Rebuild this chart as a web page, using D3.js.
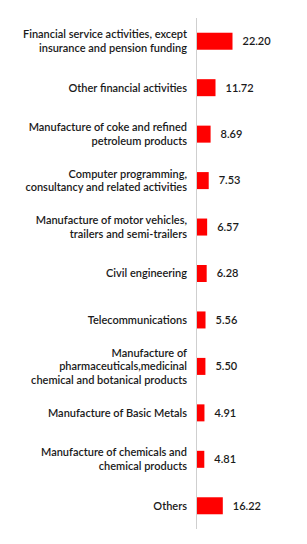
<!DOCTYPE html>
<html><head><meta charset="utf-8">
<script src="https://cdn.jsdelivr.net/npm/d3@7"></script>
<style>
html,body{margin:0;padding:0;background:#fff;}
text{font-family:Lato,"Noto Sans",sans-serif;}
</style></head>
<body><svg id="chart" width="307" height="544"></svg>
<script>
const categories = [
  "Financial service activities, except\ninsurance and pension funding",
  "Other financial activities",
  "Manufacture of coke and refined\npetroleum products",
  "Computer programming,\nconsultancy and related activities",
  "Manufacture of motor vehicles,\ntrailers and semi-trailers",
  "Civil engineering",
  "Telecommunications",
  "Manufacture of\npharmaceuticals,medicinal\nchemical and botanical products",
  "Manufacture of Basic Metals",
  "Manufacture of chemicals and\nchemical products",
  "Others"
];
const values = [22.20, 11.72, 8.69, 7.53, 6.57, 6.28, 5.56, 5.50, 4.91, 4.81, 16.22];

(function(){
const svg = d3.select("#chart");
const axisX = 196.5, y0 = 18, y1 = 529;
const x = d3.scaleLinear().domain([0, 22.2]).range([axisX, axisX + 36]);
const y = d3.scaleBand().domain(categories).range([y0, y1]).paddingInner(0.634).paddingOuter(0.317);

svg.selectAll("rect.bar").data(values).join("rect")
  .attr("class","bar")
  .attr("x", x(0))
  .attr("y", (d,i)=>y(categories[i]))
  .attr("width", d=>x(d)-x(0))
  .attr("height", y.bandwidth())
  .attr("fill", "#ff0000");

svg.append("line").attr("x1",axisX).attr("x2",axisX).attr("y1",y0).attr("y2",y1)
  .attr("stroke","#cfcfcf").attr("stroke-width",1);

const lh = 13.6;
svg.selectAll("text.cat").data(categories).join("text")
  .attr("class","cat")
  .attr("text-anchor","end")
  .attr("font-size", 11)
  .attr("font-weight", 600)
  .attr("fill","#1a1a1a")
  .each(function(d){
    const lines = d.split("\n");
    const cy = y(d) + y.bandwidth()/2;
    const t = d3.select(this);
    lines.forEach((ln,j)=>{
      t.append("tspan").attr("x", 187)
        .attr("y", cy + (j - (lines.length-1)/2)*lh)
        .attr("dy","0.35em").text(ln);
    });
  });

svg.selectAll("text.val").data(values).join("text")
  .attr("class","val")
  .attr("x", d=>x(d)+10)
  .attr("y", (d,i)=>y(categories[i]) + y.bandwidth()/2)
  .attr("dy","0.35em")
  .attr("font-size", 11)
  .attr("font-weight", 600)
  .attr("fill","#1a1a1a")
  .text(d=>d.toFixed(2));
})();
</script></body></html>
